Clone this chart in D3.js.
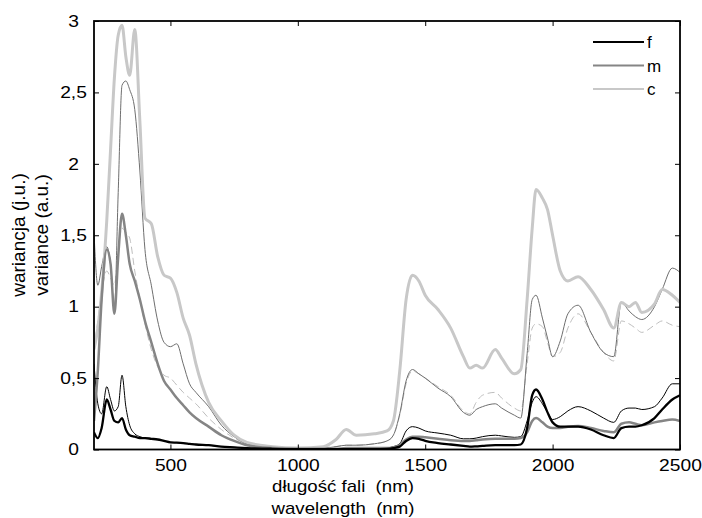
<!DOCTYPE html>
<html>
<head>
<meta charset="utf-8">
<script src="https://cdn.jsdelivr.net/npm/d3@7"></script>
<style>
  body { margin: 0; background: #fff; }
  svg { display: block; font-family: Arial, "Liberation Sans", sans-serif; }
</style>
</head>
<body>
<div id="chart"></div>
<script>
// wavelength grid (nm)
const wavelength = [200, 215, 230, 250, 265, 280, 295, 310, 325, 340, 360, 380, 400, 425, 450, 475, 500, 525, 550, 575,
  600, 650, 700, 750, 800, 900, 1000, 1100, 1150, 1190, 1230, 1300, 1350, 1375, 1400, 1425, 1450, 1475, 1500, 1550,
  1600, 1650, 1675, 1700, 1725, 1775, 1800, 1850, 1875, 1900, 1920, 1935, 1960, 1980, 2000, 2030, 2060, 2100, 2150, 2200,
  2240, 2270, 2300, 2325, 2350, 2400, 2430, 2470, 2500];

// thick lines
const fThick = [0.12, 0.08, 0.15, 0.35, 0.28, 0.20, 0.19, 0.22, 0.14, 0.10, 0.09, 0.08, 0.08, 0.075, 0.07, 0.06, 0.05, 0.048, 0.045, 0.04,
  0.035, 0.03, 0.02, 0.015, 0.01, 0.005, 0.003, 0.003, 0.003, 0.003, 0.003, 0.003, 0.005, 0.01, 0.02, 0.06, 0.08, 0.075, 0.06, 0.045,
  0.035, 0.025, 0.02, 0.022, 0.025, 0.03, 0.03, 0.03, 0.035, 0.15, 0.38, 0.42, 0.35, 0.26, 0.19, 0.16, 0.16, 0.16, 0.14, 0.10,
  0.08, 0.15, 0.16, 0.16, 0.17, 0.22, 0.28, 0.35, 0.38];
const mThick = [0.20, 0.55, 1.05, 1.40, 1.30, 0.95, 1.35, 1.65, 1.50, 1.30, 1.18, 1.05, 0.90, 0.75, 0.60, 0.48, 0.42, 0.36, 0.31, 0.26,
  0.22, 0.16, 0.10, 0.06, 0.03, 0.01, 0.005, 0.005, 0.005, 0.01, 0.01, 0.01, 0.01, 0.015, 0.03, 0.07, 0.09, 0.09, 0.085, 0.075,
  0.065, 0.06, 0.06, 0.065, 0.07, 0.075, 0.075, 0.075, 0.08, 0.12, 0.20, 0.22, 0.19, 0.16, 0.15, 0.15, 0.16, 0.165, 0.15, 0.13,
  0.12, 0.18, 0.19, 0.18, 0.17, 0.19, 0.20, 0.21, 0.20];
const cThick = [0.70, 0.85, 1.10, 1.60, 2.10, 2.60, 2.90, 2.97, 2.75, 2.62, 2.94, 2.30, 1.62, 1.58, 1.35, 1.22, 1.20, 1.10, 0.92, 0.80,
  0.60, 0.33, 0.20, 0.10, 0.05, 0.02, 0.01, 0.02, 0.07, 0.14, 0.10, 0.11, 0.13, 0.20, 0.55, 1.05, 1.22, 1.18, 1.08, 0.98,
  0.85, 0.65, 0.57, 0.59, 0.57, 0.70, 0.64, 0.53, 0.56, 1.05, 1.55, 1.82, 1.76, 1.68, 1.50, 1.25, 1.18, 1.21, 1.12, 0.98,
  0.85, 1.03, 1.00, 1.03, 0.96, 1.02, 1.12, 1.08, 1.03];

// thin lines
const fThin = [0.60, 0.32, 0.25, 0.44, 0.35, 0.27, 0.30, 0.52, 0.30, 0.17, 0.11, 0.09, 0.08, 0.075, 0.07, 0.06, 0.05, 0.048, 0.045, 0.04,
  0.035, 0.03, 0.02, 0.015, 0.01, 0.006, 0.005, 0.005, 0.006, 0.008, 0.008, 0.01, 0.012, 0.02, 0.04, 0.13, 0.16, 0.15, 0.13, 0.115,
  0.10, 0.075, 0.075, 0.08, 0.09, 0.10, 0.095, 0.085, 0.09, 0.20, 0.33, 0.37, 0.32, 0.26, 0.21, 0.23, 0.27, 0.30, 0.27, 0.22,
  0.19, 0.27, 0.29, 0.29, 0.28, 0.30, 0.36, 0.46, 0.46];
const mThin = [1.52, 1.15, 1.28, 1.42, 1.30, 0.98, 1.80, 2.55, 2.58, 2.52, 2.38, 1.95, 1.40, 1.15, 0.90, 0.75, 0.72, 0.74, 0.60, 0.46,
  0.40, 0.30, 0.17, 0.09, 0.04, 0.015, 0.01, 0.01, 0.02, 0.03, 0.03, 0.04, 0.06, 0.10, 0.25, 0.48, 0.56, 0.53, 0.50, 0.43,
  0.37, 0.26, 0.24, 0.28, 0.30, 0.32, 0.29, 0.24, 0.22, 0.67, 1.05, 1.08, 0.92, 0.78, 0.65, 0.76, 0.95, 1.01, 0.82, 0.68,
  0.65, 1.03, 0.97, 0.93, 0.91, 1.00, 1.12, 1.27, 1.24];
const cThin = [0.70, 0.90, 1.10, 1.25, 1.20, 1.15, 1.40, 1.55, 1.52, 1.48, 1.25, 1.05, 0.88, 0.70, 0.58, 0.52, 0.50, 0.45, 0.40, 0.36,
  0.32, 0.22, 0.14, 0.08, 0.04, 0.015, 0.01, 0.015, 0.02, 0.03, 0.03, 0.04, 0.06, 0.10, 0.24, 0.46, 0.55, 0.53, 0.50, 0.44,
  0.38, 0.27, 0.25, 0.33, 0.38, 0.40, 0.36, 0.29, 0.27, 0.60, 0.85, 0.88, 0.86, 0.75, 0.65, 0.68, 0.85, 0.95, 0.82, 0.68,
  0.62, 0.90, 0.88, 0.85, 0.82, 0.87, 0.90, 0.87, 0.86];

const xTicks = [500, 1000, 1500, 2000, 2500];
const yTicks = [0, 0.5, 1, 1.5, 2, 2.5, 3];
const legendNames = ['f', 'm', 'c'];

const width = 702, height = 518;
const [mt, mr, mb, ml] = [21, 22, 68.5, 94];
// the reference text is a bit wide, stretch it sideways
const sx = 1.18;

const x = d3.scaleLinear([200, 2500], [ml, width - mr]);
const y = d3.scaleLinear([0, 3], [height - mb, mt]);

const svg = d3.select('#chart')
  .append('svg')
  .attr('width', width)
  .attr('height', height);

svg.append('defs').append('clipPath')
  .attr('id', 'clip')
  .append('rect')
  .attr('x', ml).attr('y', mt)
  .attr('width', width - mr - ml)
  .attr('height', height - mb - mt);

const line = d3.line()
  .x((d, i) => x(wavelength[i]))
  .y(d => y(d))
  .curve(d3.curveMonotoneX);

// draw order: thin first, thick on top
const series = [
  { values: cThin, color: '#bdbdbd', w: 1, dash: '7,4' },
  { values: mThin, color: '#6e6e6e', w: 1 },
  { values: fThin, color: '#000', w: 1 },
  { values: cThick, color: '#c8c8c8', w: 3 },
  { values: mThick, color: '#858585', w: 2.5 },
  { values: fThick, color: '#000', w: 2.3 }
];

svg.append('g')
  .attr('clip-path', 'url(#clip)')
  .selectAll('path')
  .data(series)
  .join('path')
  .attr('fill', 'none')
  .attr('stroke', d => d.color)
  .attr('stroke-width', d => d.w)
  .attr('stroke-dasharray', d => d.dash || null)
  .attr('stroke-linejoin', 'round')
  .attr('d', d => line(d.values));

// axes box with inward ticks on every side
const fmt = d => String(d).replace('.', ',');
const tick = 5;

svg.append('g')
  .attr('transform', `translate(0,${height - mb})`)
  .call(d3.axisBottom(x).tickValues(xTicks).tickSize(-tick).tickPadding(10).tickFormat(d => d).tickSizeOuter(0))
  .call(g => g.select('.domain').remove())
  .call(g => g.selectAll('.tick text').attr('transform', `scale(${sx},1)`));

svg.append('g')
  .attr('transform', `translate(0,${mt})`)
  .call(d3.axisTop(x).tickValues(xTicks).tickSize(-tick).tickFormat('').tickSizeOuter(0))
  .call(g => g.select('.domain').remove());

svg.append('g')
  .attr('transform', `translate(${ml},0)`)
  .call(d3.axisLeft(y).tickValues(yTicks).tickSize(-tick).tickFormat(fmt).tickSizeOuter(0))
  .call(g => g.select('.domain').remove())
  .call(g => g.selectAll('.tick text')
    .attr('text-anchor', 'middle')
    .attr('x', -20.5 / sx)
    .attr('transform', `scale(${sx},1)`));

svg.append('g')
  .attr('transform', `translate(${width - mr},0)`)
  .call(d3.axisRight(y).tickValues(yTicks).tickSize(-tick).tickFormat('').tickSizeOuter(0))
  .call(g => g.select('.domain').remove());

svg.selectAll('.tick line').attr('stroke', '#000');
svg.selectAll('.tick text')
  .attr('fill', '#000')
  .style('font-size', '16.3px')
  .style('font-family', 'Arial, "Liberation Sans", sans-serif');

svg.append('rect')
  .attr('x', ml).attr('y', mt)
  .attr('width', width - mr - ml)
  .attr('height', height - mb - mt)
  .attr('fill', 'none')
  .attr('stroke', '#000')
  .attr('stroke-width', 1.8);

// axis titles
svg.append('g')
  .attr('transform', `translate(343,0) scale(${sx},1)`)
  .attr('font-size', 15.8)
  .attr('text-anchor', 'middle')
  .selectAll('text')
  .data(['długość fali  (nm)', 'wavelength  (nm)'])
  .join('text')
  .attr('x', 0)
  .attr('y', (d, i) => 492 + i * 22)
  .style('white-space', 'pre')
  .text(d => d);

svg.append('g')
  .attr('font-size', 19)
  .attr('text-anchor', 'middle')
  .selectAll('text')
  .data(['wariancja (j.u.)', 'variance (a.u.)'])
  .join('text')
  .attr('transform', (d, i) => `translate(${25 + i * 23},235) rotate(-90)`)
  .text(d => d);

// legend
const legendColors = ['#000', '#858585', '#c8c8c8'];
const legend = svg.append('g')
  .selectAll('g')
  .data(legendNames)
  .join('g')
  .attr('transform', (d, i) => `translate(593,${42 + i * 23.5})`);

legend.append('line')
  .attr('x1', 0).attr('x2', 51)
  .attr('stroke', (d, i) => legendColors[i])
  .attr('stroke-width', 2);

legend.append('text')
  .attr('x', 54)
  .attr('y', 6)
  .attr('font-size', 17)
  .text(d => d);
</script>
</body>
</html>
